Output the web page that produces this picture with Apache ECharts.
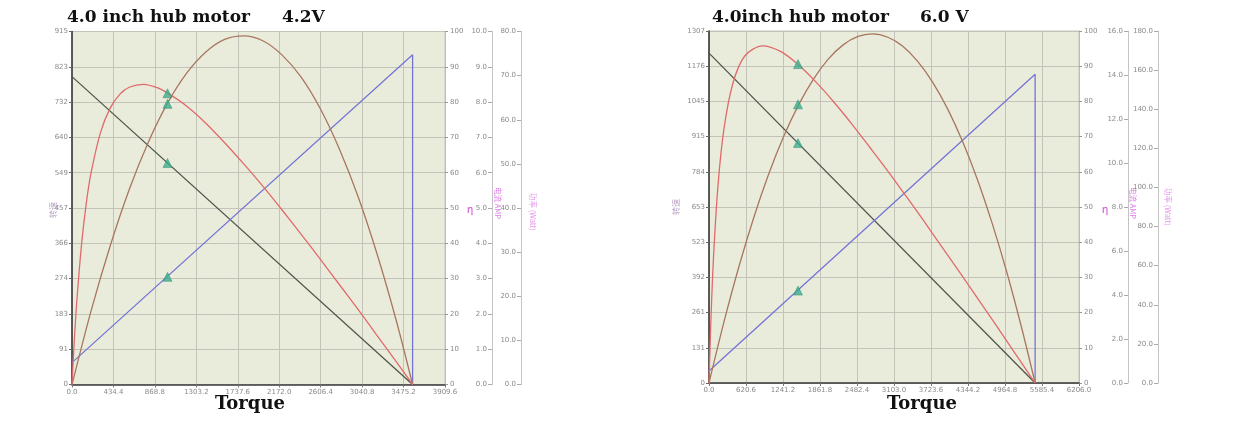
<!DOCTYPE html>
<html><head><meta charset="utf-8">
<script src="https://cdn.jsdelivr.net/npm/echarts@6/dist/echarts.min.js"></script>
<style>html,body{margin:0;padding:0;background:#fff}#c{width:1240px;height:440px}</style>
</head><body><div id="c"></div>
<script>
// ---------- 4.2 V chart ----------
const xTicksA = ['0.0','434.4','868.8','1303.2','1737.6','2172.0','2606.4','3040.8','3475.2','3909.6'];
const speedTicksA = ['0','91','183','274','366','457','549','640','732','823','915'];
const speedA = [[0,798],[3570,0]];
const currentA = [[0,0.62],[3570,9.34],[3570,0]];
const effA = [[0,0],[20,10.5],[50,23.4],[100,39.7],[150,51.4],[200,60.0],[300,71.5],[400,78.3],[500,82.2],[600,84.2],[750,85.0],[900,84.0],[1000,82.6],[1200,78.9],[1400,74.1],[1600,68.5],[1800,62.5],[2000,56.2],[2200,49.5],[2400,42.6],[2600,35.6],[2800,28.4],[3000,21.2],[3200,13.8],[3400,6.4],[3570,0]];
const powerA = [[0,0],[200,16.7],[400,31.4],[600,44.2],[800,54.9],[1000,63.7],[1200,70.5],[1400,75.3],[1600,78.2],[1800,79.0],[2000,77.9],[2200,74.7],[2400,69.7],[2600,62.6],[2800,53.5],[3000,42.5],[3200,29.4],[3400,14.4],[3570,0]];
const markSpeedA = [[1001,574]];
const markCurrentA = [[1001,3.05]];
const markEffA = [[1001,82.5]];
const markPowerA = [[1001,63.6]];

// ---------- 6.0 V chart ----------
const xTicksB = ['0.0','620.6','1241.2','1861.8','2482.4','3103.0','3723.6','4344.2','4964.8','5585.4','6206.0'];
const speedTicksB = ['0','131','261','392','523','653','784','915','1045','1176','1307'];
const speedB = [[0,1225],[5470,0]];
const currentB = [[0,0.55],[5470,14.03],[5470,0]];
const effB = [[0,0],[30,16.9],[75,35.5],[150,55.9],[250,72.1],[400,85.1],[600,92.9],[900,95.8],[1200,94.2],[1500,90.4],[1800,85.4],[2100,79.7],[2400,73.5],[2700,66.9],[3000,60.2],[3300,53.2],[3600,46.1],[3900,38.8],[4200,31.6],[4500,24.2],[4800,16.8],[5100,9.3],[5350,3.0],[5470,0]];
const powerB = [[0,0],[250,31.1],[500,59.3],[750,84.5],[1000,106.7],[1250,125.9],[1500,142.1],[1750,155.3],[2000,165.6],[2250,172.9],[2500,177.2],[2735,178.5],[3000,176.8],[3250,172.2],[3500,164.5],[3750,153.9],[4000,140.3],[4250,123.7],[4500,104.2],[4750,81.6],[5000,56.1],[5250,27.5],[5470,0]];
const markSpeedB = [[1493,891]];
const markCurrentB = [[1493,4.2]];
const markEffB = [[1493,90.6]];
const markPowerB = [[1493,142.5]];

const titlesA = ['4.0 inch hub motor', '4.2V'];
const titlesB = ['4.0inch hub motor', '6.0 V'];
const xName = 'Torque';
const speedName = '转速';
const effName = 'η';
const currentName = '电流 AMP';
const powerName = '功率 (Watt)';

const C_SPEED = '#50554a', C_CUR = '#7474d6', C_EFF = '#e06a6a', C_POW = '#a8765f', C_MARK = '#3aae8c';
const labelStyle = {fontSize: 7, color: '#8a8a8a', fontFamily: 'DejaVu Sans'};

function xAx(gi, max, interval, ticks) {
  return {type:'value', gridIndex:gi, min:0, max:max, interval:interval,
    axisLine:{show:true, lineStyle:{color:'#3a3a3a', width:1.6}},
    axisTick:{show:true, length:3, lineStyle:{color:'#777'}},
    axisLabel:Object.assign({margin:4, showMaxLabel:true, formatter:v=>ticks[Math.round(v/interval)] ?? ''}, labelStyle),
    splitLine:{show:true, lineStyle:{color:'#c3c3ba', width:1}}};
}
function ySpeed(gi, max, ticks) {
  const iv = max/10;
  return {type:'value', gridIndex:gi, position:'left', min:0, max:max, interval:iv,
    axisLine:{show:true, lineStyle:{color:'#3a3a3a', width:1.6}},
    axisTick:{show:true, length:3, lineStyle:{color:'#666'}},
    axisLabel:Object.assign({margin:4, showMaxLabel:true, formatter:v=>ticks[Math.round(v/iv)] ?? ''}, labelStyle),
    splitLine:{show:true, lineStyle:{color:'#c3c3ba', width:1}}};
}
function yEff(gi) {
  return {type:'value', gridIndex:gi, position:'right', min:0, max:100, interval:10,
    axisLine:{show:true, lineStyle:{color:'#bdbdb5', width:1}},
    axisTick:{show:true, length:3, lineStyle:{color:'#999'}},
    axisLabel:Object.assign({margin:5}, labelStyle),
    splitLine:{show:false}};
}
function ySide(gi, max, interval, offset, digits) {
  return {type:'value', gridIndex:gi, position:'right', offset:offset, min:0, max:max, interval:interval,
    axisLine:{show:true, lineStyle:{color:'#c4c4c4', width:1}},
    axisTick:{show:true, inside:true, length:4, lineStyle:{color:'#aaa'}},
    axisLabel:Object.assign({inside:true, margin:5, formatter:v=>v.toFixed(digits)}, labelStyle),
    splitLine:{show:false}};
}
function line(data, xi, yi, color, smooth) {
  return {type:'line', data:data, xAxisIndex:xi, yAxisIndex:yi, showSymbol:false, symbol:'none',
    smooth:smooth, lineStyle:{color:color, width:1.3}, itemStyle:{color:color}, z:3, animation:false};
}
function mark(data, xi, yi) {
  return {type:'scatter', data:data, xAxisIndex:xi, yAxisIndex:yi, symbol:'triangle', symbolSize:9,
    itemStyle:{color:C_MARK, borderColor:'#2f8f73', borderWidth:0.6}, z:5, animation:false};
}
function txt(x, y, s, size, opts) {
  return Object.assign({type:'text', x:x, y:y, style:Object.assign({text:s, fontSize:size,
    fontFamily:'DejaVu Serif', fontWeight:'bold', fill:'#111', align:'left', verticalAlign:'top'}, opts && opts.style || {})},
    opts && opts.el || {});
}
function axName(x, y, s, color, rot, size) {
  return {type:'text', x:x, y:y, rotation:rot, style:{text:s, fontSize:size, fontFamily:'Noto Sans CJK SC', fill:color, align:'center', verticalAlign:'middle'}};
}

const option = {
  animation:false,
  backgroundColor:'#ffffff',
  grid:[
    {left:72, top:31.5, width:373, height:353, show:true, backgroundColor:'#eaecdb', borderColor:'#c8c8be', borderWidth:1},
    {left:709, top:31, width:370, height:352, show:true, backgroundColor:'#eaecdb', borderColor:'#c8c8be', borderWidth:1}
  ],
  xAxis:[ xAx(0, 3909.6, 434.4, xTicksA), xAx(1, 6206.0, 620.6, xTicksB) ],
  yAxis:[
    ySpeed(0, 915, speedTicksA), yEff(0), ySide(0, 10, 1, 47, 1), ySide(0, 80, 10, 76, 1),
    ySpeed(1, 1307, speedTicksB), yEff(1), ySide(1, 16, 2, 49, 1), ySide(1, 180, 20, 79, 1)
  ],
  series:[
    line(speedA, 0, 0, C_SPEED, false),
    line(currentA, 0, 2, C_CUR, false),
    line(powerA, 0, 3, C_POW, 0.3),
    line(effA, 0, 1, C_EFF, 0.3),
    mark(markSpeedA, 0, 0), mark(markCurrentA, 0, 2), mark(markEffA, 0, 1), mark(markPowerA, 0, 3),
    line(speedB, 1, 4, C_SPEED, false),
    line(currentB, 1, 6, C_CUR, false),
    line(powerB, 1, 7, C_POW, 0.3),
    line(effB, 1, 5, C_EFF, 0.3),
    mark(markSpeedB, 1, 4), mark(markCurrentB, 1, 6), mark(markEffB, 1, 5), mark(markPowerB, 1, 7)
  ],
  graphic:[
    txt(67, 9, titlesA[0], 17), txt(282, 9, titlesA[1], 17),
    txt(712, 9, titlesB[0], 17), txt(920, 9, titlesB[1], 17),
    txt(250, 395, xName, 18, {style:{align:'center'}}),
    txt(922, 395, xName, 18, {style:{align:'center'}}),
    axName(53, 210, speedName, '#b9a2c4', Math.PI/2, 8),
    axName(676, 207, speedName, '#b9a2c4', Math.PI/2, 8),
    axName(470, 209, effName, '#d050d0', 0, 11),
    axName(1105, 209, effName, '#d050d0', 0, 11),
    axName(498, 203, currentName, '#dd80e6', -Math.PI/2, 7.5),
    axName(533, 212, powerName, '#e39aea', -Math.PI/2, 7.5),
    axName(1133, 203, currentName, '#dd80e6', -Math.PI/2, 7.5),
    axName(1168, 207, powerName, '#e39aea', -Math.PI/2, 7.5)
  ]
};
const chart = echarts.init(document.getElementById('c'), null, {renderer:'canvas'});
chart.setOption(option);
</script></body></html>
